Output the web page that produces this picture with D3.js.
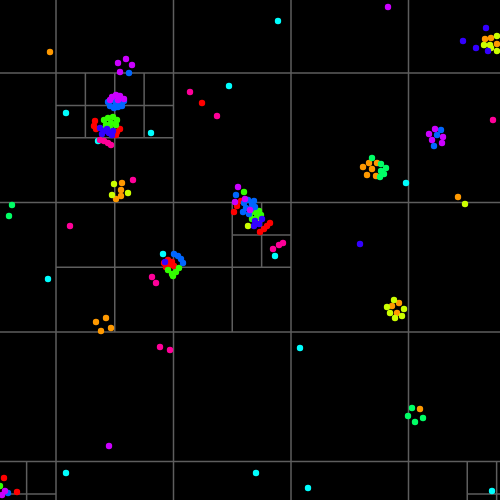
<!DOCTYPE html>
<html><head><meta charset="utf-8">
<script src="https://cdn.jsdelivr.net/npm/d3@7"></script>
<style>html,body{margin:0;padding:0;background:#000;}svg{display:block;}</style>
</head><body>
<script>
// colour hues (index -> hue step of 36 degrees)
const hueSteps = [0,1,2,3,4,5,6,7,8,9];

// quadtree root extent (data units)
const rootX = [-179, 761];
const rootY = [-186, 850];
const uniformDepth = 3;
// extra split nodes (d3 quadrant addresses: 0 NW, 1 NE, 2 SW, 3 SE)
const extraSplits = ["030","0300","0301","032","033","0331","203","2031","303","3031"];

// points: [x, y, colourIndex]
const points = [
  // red
  [202,103,0],[95,121,0],[94,126,0],[96,129,0],[117,132,0],[120,129,0],[116,135,0],
  [234,212,0],[237,206,0],[241,201,0],[260,232,0],[264,229,0],[267,226,0],[270,223,0],
  [164,263,0],[168,260,0],[172,262,0],[166,267,0],[170,265,0],[174,266,0],
  [4,478,0],[17,492,0],
  // orange
  [50,52,1],[485,39,1],[491,38,1],[497,44,1],
  [122,183,1],[121,190,1],[121,196,1],[116,199,1],
  [363,167,1],[369,163,1],[377,163,1],[372,169,1],[367,175,1],[376,176,1],
  [392,306,1],[399,303,1],[397,313,1],
  [96,322,1],[106,318,1],[111,328,1],[101,331,1],
  [420,409,1],[458,197,1],
  // lime
  [497,36,2],[484,45,2],[490,45,2],[491,48,2],[497,51,2],
  [114,184,2],[112,195,2],[128,193,2],
  [248,226,2],[259,222,2],
  [394,300,2],[387,307,2],[404,309,2],[390,313,2],[395,318,2],[402,316,2],
  [465,204,2],
  // green-lime
  [104,120,3],[108,118,3],[113,117,3],[117,120,3],[106,125,3],[111,123,3],[116,125,3],[110,128,3],[104,129,3],
  [244,192,3],
  [250,214,3],[255,212,3],[259,211,3],[252,219,3],[257,217,3],[261,215,3],
  [168,270,3],[172,274,3],[176,272,3],[179,268,3],[173,276,3],
  [0,486,3],
  // green
  [372,158,4],[381,164,4],[386,168,4],[381,171,4],[384,174,4],[380,177,4],
  [412,408,4],[408,416,4],[423,418,4],[415,422,4],
  [12,205,4],[9,216,4],
  // cyan
  [278,21,5],[229,86,5],[66,113,5],[151,133,5],[98,141,5],[163,254,5],[275,256,5],
  [406,183,5],[48,279,5],[300,348,5],[66,473,5],[256,473,5],[308,488,5],[492,491,5],
  // azure
  [129,73,6],
  [108,102,6],[112,100,6],[116,104,6],[120,103,6],[124,101,6],[110,106,6],[118,107,6],[122,106,6],[114,108,6],
  [441,130,6],[437,135,6],[434,146,6],
  [236,195,6],[244,203,6],[248,200,6],[252,204,6],[246,208,6],[251,209,6],[255,207,6],[243,212,6],[249,214,6],[254,201,6],
  [174,254,6],[178,256,6],[181,259,6],[183,263,6],
  [8,493,6],
  // blue
  [486,28,7],[463,41,7],[476,48,7],[488,51,7],
  [100,128,7],[104,131,7],[109,133,7],[113,131,7],[102,134,7],[107,129,7],[112,135,7],
  [255,221,7],[259,224,7],[262,219,7],[254,226,7],
  [165,262,7],[360,244,7],
  // purple
  [388,7,8],[118,63,8],[126,59,8],[132,65,8],[120,72,8],
  [112,97,8],[116,95,8],[120,96,8],[124,99,8],[110,100,8],[118,100,8],
  [435,129,8],[429,134,8],[443,137,8],[432,140,8],[442,143,8],
  [238,187,8],[235,202,8],[245,199,8],[250,210,8],
  [109,446,8],[5,491,8],[2,495,8],
  // pink
  [190,92,9],[217,116,9],[493,120,9],
  [100,140,9],[104,141,9],[108,143,9],[111,145,9],
  [133,180,9],[273,249,9],[279,245,9],[283,243,9],
  [152,277,9],[156,283,9],[70,226,9],[160,347,9],[170,350,9]
];

const W = 500, H = 500;
const x = d3.scaleLinear().domain([0, 500]).range([0, W]);
const y = d3.scaleLinear().domain([0, 500]).range([0, H]);
const color = d3.scaleOrdinal().domain(hueSteps).range(hueSteps.map(k => d3.hsl(k * 36, 1, 0.5).toString()));

const svg = d3.select("body").append("svg").attr("width", W).attr("height", H)
  .style("background", "#000");

// build quadtree split lines
const splitSet = new Set(extraSplits);
const segs = [];
(function build(x0, y0, x1, y1, addr, depth) {
  if (x1 < 0 || x0 > 500 || y1 < 0 || y0 > 500) return;
  if (!(depth < uniformDepth || splitSet.has(addr))) return;
  const xm = (x0 + x1) / 2, ym = (y0 + y1) / 2;
  segs.push([xm, y0, xm, y1]);
  segs.push([x0, ym, x1, ym]);
  build(x0, y0, xm, ym, addr + "0", depth + 1);
  build(xm, y0, x1, ym, addr + "1", depth + 1);
  build(x0, ym, xm, y1, addr + "2", depth + 1);
  build(xm, ym, x1, y1, addr + "3", depth + 1);
})(rootX[0], rootY[0], rootX[1], rootY[1], "", 0);

svg.append("g").selectAll("line").data(segs).join("line")
  .attr("x1", d => x(d[0])).attr("y1", d => y(d[1]))
  .attr("x2", d => x(d[2])).attr("y2", d => y(d[3]))
  .attr("stroke", "#5e5e5e").attr("stroke-width", 1.5);

svg.append("g").selectAll("circle").data(points).join("circle")
  .attr("cx", d => x(d[0])).attr("cy", d => y(d[1]))
  .attr("r", 3.2)
  .attr("fill", d => color(d[2]));
</script>
</body></html>
